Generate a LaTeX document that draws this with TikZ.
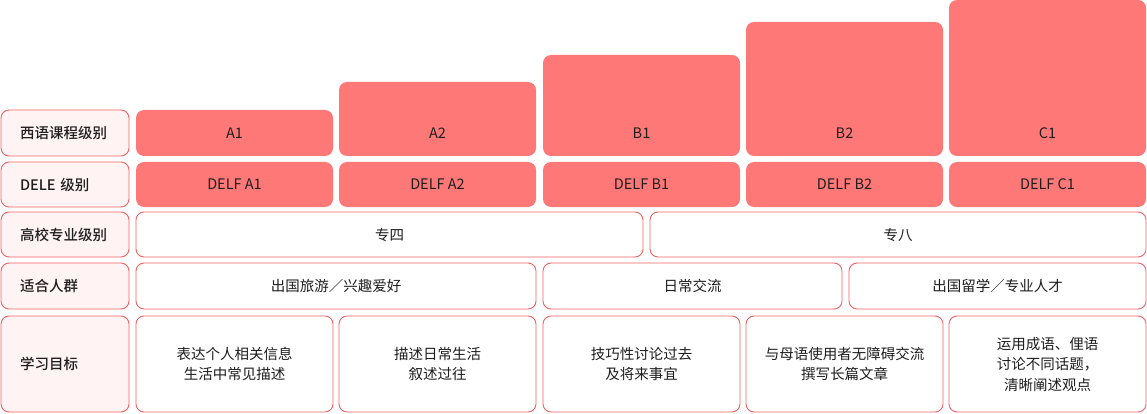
\documentclass[tikz,border=0pt]{standalone}
\usepackage{fontspec}
\setmainfont{Noto Sans CJK SC}[BoldFont={Noto Sans CJK SC Medium}]
\definecolor{barred}{HTML}{FF7878}
\definecolor{edgered}{HTML}{F26363}
\definecolor{labpink}{HTML}{FFF3F3}
\definecolor{inkdark}{HTML}{1E1E1E}
\tikzset{
  cell/.style={draw=edgered, line width=0.9pt, rounded corners=8pt,
    inner sep=0pt, outer sep=0pt, align=center, text=inkdark,
    font=\fontsize{14.5}{20.5}\selectfont},
  rowlab/.style={cell, fill=labpink, text width=90pt, inner xsep=19pt, align=left,
    font=\fontsize{14.5}{20.5}\selectfont\bfseries},
  bar/.style={cell, draw=none, fill=barred, minimum width=197},
  plain/.style={cell, fill=white},
  bartext/.style={inner sep=0pt, text=inkdark, font=\fontsize{14.5}{20.5}\selectfont}
}
\begin{document}
\begin{tikzpicture}[x=1pt,y=-1pt]
    \useasboundingbox (0,0) rectangle (1147,414);

    % row labels
    \node[rowlab, minimum height=46] (lcourse) at (65,133) {西语课程级别};
    \node[rowlab, minimum height=45] (ldele) at (65,184.5) {DELE 级别};
    \node[rowlab, minimum height=45] (lschool) at (65,234.5) {高校专业级别};
    \node[rowlab, minimum height=46] (lgroup) at (65,286) {适合人群};
    \node[rowlab, minimum height=96] (lgoal) at (65,364) {学习目标};

    % course level bars
    \node[bar, minimum height=46] (a1) at (234.5,133) {};
    \node[bar, minimum height=74] (a2) at (437.5,119) {};
    \node[bar, minimum height=101] (b1) at (641.5,105.5) {};
    \node[bar, minimum height=134] (b2) at (844.5,89) {};
    \node[bar, minimum height=156] (c1) at (1047.5,78) {};
    \node[bartext] (a1txt) at (234.5,133) {A1};
    \node[bartext] (a2txt) at (437.5,133) {A2};
    \node[bartext] (b1txt) at (641.5,133) {B1};
    \node[bartext] (b2txt) at (844.5,133) {B2};
    \node[bartext] (c1txt) at (1047.5,133) {C1};

    % DELE
    \node[bar, minimum height=45] (da1) at (234.5,184.5) {DELF A1};
    \node[bar, minimum height=45] (da2) at (437.5,184.5) {DELF A2};
    \node[bar, minimum height=45] (db1) at (641.5,184.5) {DELF B1};
    \node[bar, minimum height=45] (db2) at (844.5,184.5) {DELF B2};
    \node[bar, minimum height=45] (dc1) at (1047.5,184.5) {DELF C1};

    % school levels
    \node[plain, minimum width=507, minimum height=45] (tem4) at (389.5,234.5) {专四};
    \node[plain, minimum width=496, minimum height=45] (tem8) at (898,234.5) {专八};

    % groups
    \node[plain, minimum width=400, minimum height=46] (gtravel) at (336,286) {出国旅游／兴趣爱好};
    \node[plain, minimum width=299, minimum height=46] (gdaily) at (692.5,286) {日常交流};
    \node[plain, minimum width=297, minimum height=46] (gabroad) at (997.5,286) {出国留学／专业人才};

    % goals
    \node[plain, minimum width=197, minimum height=96] (ga1) at (234.5,364) {表达个人相关信息\\生活中常见描述};
    \node[plain, minimum width=197, minimum height=96] (ga2) at (437.5,364) {描述日常生活\\叙述过往};
    \node[plain, minimum width=197, minimum height=96] (gb1) at (641.5,364) {技巧性讨论过去\\及将来事宜};
    \node[plain, minimum width=197, minimum height=96] (gb2) at (844.5,364) {与母语使用者无障碍交流\\撰写长篇文章};
    \node[plain, minimum width=197, minimum height=96] (gc1) at (1047.5,364) {运用成语、俚语\\讨论不同话题，\\清晰阐述观点};
\end{tikzpicture}
\end{document}
